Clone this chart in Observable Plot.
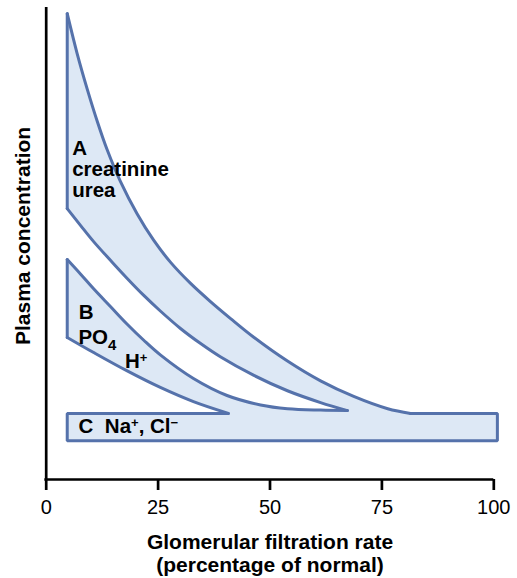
<!DOCTYPE html>
<html>
<head>
<meta charset="utf-8">
<script src="https://cdn.jsdelivr.net/npm/d3@7"></script>
<script src="https://cdn.jsdelivr.net/npm/@observablehq/plot@0.6"></script>
<style>
  html, body { margin: 0; padding: 0; background: white; }
</style>
</head>
<body>
<div id="chart"></div>
<script>
// ---- Data (GFR in % of normal, plasma concentration in arbitrary units) ----
const xTicks = [0, 25, 50, 75, 100];

// Band A (creatinine, urea): upper and lower boundaries
const aUpperGfr  = [4.7, 6.9, 9.2, 11.4, 13.6, 16.6, 20.3, 24.0, 27.8, 32.2, 36.7, 41.2, 46.3, 53.9, 61.3, 68.7, 76.3, 81.4];
const aUpperConc = [98.7, 90.3, 82.6, 75.9, 69.9, 63.1, 56.3, 50.7, 46.0, 41.6, 37.7, 34.1, 30.2, 25.1, 20.9, 17.6, 15.0, 14.0];
const aLowerGfr  = [4.7, 7.7, 10.6, 14.4, 18.1, 21.8, 25.5, 30.0, 34.5, 38.9, 46.3, 53.9, 61.3, 67.3];
const aLowerConc = [57.4, 53.8, 50.4, 46.4, 42.6, 39.0, 35.7, 32.0, 28.8, 26.0, 22.1, 18.8, 16.3, 14.6];

// Band B (PO4, H+): upper and lower boundaries
const bUpperGfr  = [4.7, 7.7, 10.6, 14.4, 18.1, 21.8, 25.5, 32.9, 40.4, 47.9, 53.9, 61.3, 67.3];
const bUpperConc = [46.6, 43.5, 40.4, 36.6, 32.9, 29.5, 26.4, 21.4, 17.8, 15.8, 15.0, 14.7, 14.6];
const bLowerGfr  = [4.7, 10.6, 18.1, 25.5, 32.9, 40.7];
const bLowerConc = [30.1, 26.9, 23.0, 19.5, 16.5, 14.0];

// Band C (Na+, Cl-): flat band
const cGfr  = [4.7, 100.8];   // left, right
const cConc = [8.2, 14.0];    // bottom, top

// Labels
const labelText = ["A", "creatinine", "urea", "B", "PO_{4}", "H^{+}", "C", "Na^{+}, Cl^{−}"];
const labelGfr  = [5.8, 5.8, 5.8, 7.3, 7.2, 17.6, 7.2, 13.1];
const labelConc = [68.8, 64.4, 59.9, 34.1, 28.8, 23.7, 9.75, 9.75];

const xTitle = "Glomerular filtration rate\n(percentage of normal)";
const yTitle = "Plasma concentration";

// ---- Build tables ----
const zip = (xs, ys) => xs.map((x, i) => ({gfr: x, conc: ys[i]}));
const aUpper = zip(aUpperGfr, aUpperConc);
const aLower = zip(aLowerGfr, aLowerConc);
const bUpper = zip(bUpperGfr, bUpperConc);
const bLower = zip(bLowerGfr, bLowerConc);
const cTop = cConc[1], cBot = cConc[0], cL = cGfr[0], cR = cGfr[1];

const outline = [
  ...aUpper,
  {gfr: cR, conc: cTop}, {gfr: cR, conc: cBot}, {gfr: cL, conc: cBot}, {gfr: cL, conc: cTop},
  ...bLower.slice().reverse(),
  ...bUpper,
  ...aLower.slice().reverse(),
  aUpper[0]
];

const curves = [
  ...aUpper.map(d => ({...d, seg: "aU"})),
  ...aLower.map(d => ({...d, seg: "aL"})),
  ...bUpper.map(d => ({...d, seg: "bU"})),
  ...bLower.map(d => ({...d, seg: "bL"}))
];
const edges = [
  {gfr: aUpper[aUpper.length - 1].gfr, conc: cTop, seg: "c"},
  {gfr: cR, conc: cTop, seg: "c"}, {gfr: cR, conc: cBot, seg: "c"},
  {gfr: cL, conc: cBot, seg: "c"}, {gfr: cL, conc: cTop, seg: "c"},
  {gfr: bLower[bLower.length - 1].gfr, conc: cTop, seg: "c"},
  {gfr: bLower[0].gfr, conc: bLower[0].conc, seg: "bl"}, {gfr: bUpper[0].gfr, conc: bUpper[0].conc, seg: "bl"},
  {gfr: aLower[0].gfr, conc: aLower[0].conc, seg: "al"}, {gfr: aUpper[0].gfr, conc: aUpper[0].conc, seg: "al"}
];
const labels = labelText.map((t, i) => ({text: t, gfr: labelGfr[i], conc: labelConc[i]}));

const STROKE = "#5572ab";
const FILL = "#dde8f5";

const chart = Plot.plot({
  width: 517,
  height: 578,
  marginLeft: 45.7,
  marginRight: 23.7,
  marginTop: 7,
  marginBottom: 99,
  x: {domain: [0, 100]},
  y: {domain: [0, 100], axis: null},
  style: {fontFamily: '"Liberation Sans", Arial, Helvetica, sans-serif', background: "white", color: "black"},
  marks: [
    Plot.line(outline, {x: "gfr", y: "conc", fill: FILL, stroke: "none"}),
    Plot.line(curves, {x: "gfr", y: "conc", z: "seg", curve: "catmull-rom", stroke: STROKE, strokeWidth: 3, strokeLinecap: "round"}),
    Plot.line(edges, {x: "gfr", y: "conc", z: "seg", stroke: STROKE, strokeWidth: 3, strokeLinejoin: "miter", strokeLinecap: "round"}),
    Plot.ruleX([0], {y1: 0, y2: 100, stroke: "black", strokeWidth: 2.7}),
    Plot.ruleY([0], {x1: -0.3, x2: 100, stroke: "black", strokeWidth: 2.7}),
    Plot.axisX({ticks: xTicks, tickSize: 11, tickPadding: 9, fontSize: 20, strokeWidth: 2.7, label: null, tickFormat: d => String(d)}),
    Plot.text(labels, {x: "gfr", y: "conc", text: "text", textAnchor: "start", lineAnchor: "bottom", fontSize: 20.5, fontWeight: "bold", fill: "black"}),
    Plot.text([xTitle], {frameAnchor: "bottom", lineAnchor: "top", dy: 53, fontSize: 21, fontWeight: "bold", lineHeight: 1.1, fill: "black"}),
    Plot.text([yTitle], {x: -5.1, y: 51.6, rotate: -90, textAnchor: "middle", lineAnchor: "middle", fontSize: 21, fontWeight: "bold", fill: "black"})
  ]
});

// Render sub/superscripts as real tspans
d3.select(chart).selectAll("text").each(function () {
  const t = this.textContent;
  if (!/[_^]\{/.test(t)) return;
  const el = d3.select(this);
  el.text(null);
  const re = /([_^])\{([^}]*)\}/g;
  let last = 0, m, shift = 0;
  while ((m = re.exec(t))) {
    if (m.index > last) {
      el.append("tspan").attr("dy", -shift).text(t.slice(last, m.index));
      shift = 0;
    }
    const s = m[1] === "_" ? 6 : -6;
    el.append("tspan").attr("dy", s - shift).attr("font-size", m[1] === "_" ? 15 : 13).text(m[2]);
    shift = s;
    last = re.lastIndex;
  }
  if (last < t.length) el.append("tspan").attr("dy", -shift).text(t.slice(last));
});

document.getElementById("chart").appendChild(chart);
</script>
</body>
</html>
